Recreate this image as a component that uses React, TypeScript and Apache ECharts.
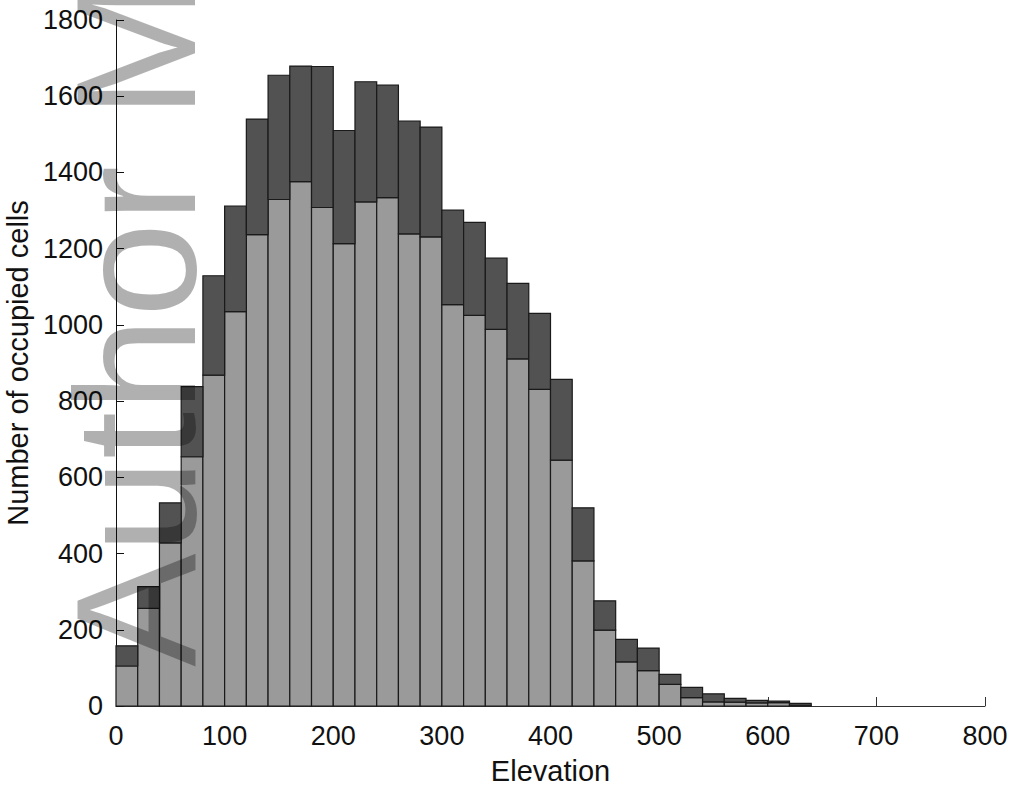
import React, { useEffect, useRef } from "react";
import * as echarts from "echarts";

const binStarts = [0, 20, 40, 60, 80, 100, 120, 140, 160, 180, 200, 220, 240, 260, 280, 300, 320, 340, 360, 380, 400, 420, 440, 460, 480, 500, 520, 540, 560, 580, 600, 620];
const binWidth = 20;
const lightCounts = [105, 256, 428, 654, 868, 1035, 1237, 1329, 1376, 1308, 1213, 1323, 1334, 1239, 1231, 1053, 1025, 988, 911, 831, 645, 381, 199, 116, 93, 57, 22, 11, 10, 8, 9, 2];
const totalCounts = [158, 313, 533, 838, 1129, 1312, 1540, 1655, 1679, 1678, 1510, 1638, 1629, 1535, 1519, 1301, 1269, 1175, 1109, 1030, 857, 520, 276, 175, 152, 83, 49, 32, 20, 15, 13, 7];

const xTicks = { min: 0, max: 800, interval: 100 };
const yTicks = { min: 0, max: 1800, interval: 200 };
const xName = "Elevation";
const yName = "Number of occupied cells";
const watermark = "Author M";

const FONT = "'Liberation Sans', Arial, Helvetica, sans-serif";

export default function App() {
  const ref = useRef<HTMLDivElement>(null);
  useEffect(() => {
    if (!ref.current) return;
    const chart = echarts.init(ref.current, undefined, { renderer: "svg" });
    const lightData = binStarts.map((s, i) => [s, s + binWidth, 0, lightCounts[i]]);
    const darkData = binStarts.map((s, i) => [s, s + binWidth, lightCounts[i], totalCounts[i]]);
    const makeRender = (fill: string) => (params: any, api: any) => {
      const p0 = api.coord([api.value(0), api.value(2)]);
      const p1 = api.coord([api.value(1), api.value(3)]);
      return {
        type: "rect",
        shape: { x: p0[0], y: p1[1], width: p1[0] - p0[0], height: p0[1] - p1[1] },
        style: { fill, stroke: "#1a1a1a", lineWidth: 1.2 },
      };
    };
    chart.setOption({
      animation: false,
      backgroundColor: "#ffffff",
      textStyle: { fontFamily: FONT },
      grid: { left: 116, right: 25, top: 20, bottom: 82, containLabel: false, outerBoundsMode: "none" },
      xAxis: {
        type: "value",
        min: xTicks.min,
        max: xTicks.max,
        interval: xTicks.interval,
        name: xName,
        nameLocation: "middle",
        nameGap: 50,
        nameTextStyle: { fontSize: 29, color: "#111", fontFamily: FONT },
        axisLine: { show: true, lineStyle: { color: "#333", width: 1 } },
        axisTick: { show: true, inside: true, length: 9, lineStyle: { color: "#333" } },
        axisLabel: { fontSize: 27, color: "#111", margin: 16, fontFamily: FONT, formatter: (v: number) => String(v) },
        splitLine: { show: false },
      },
      yAxis: {
        type: "value",
        min: yTicks.min,
        max: yTicks.max,
        interval: yTicks.interval,
        name: yName,
        nameLocation: "middle",
        nameGap: 72,
        nameTextStyle: { fontSize: 29, color: "#111", fontFamily: FONT },
        axisLine: { show: true, lineStyle: { color: "#111", width: 1 } },
        axisTick: { show: true, inside: true, length: 8, lineStyle: { color: "#111" } },
        axisLabel: { fontSize: 27, color: "#111", margin: 13, fontFamily: FONT, formatter: (v: number) => String(v) },
        splitLine: { show: false },
      },
      series: [
        {
          type: "custom",
          name: "light",
          data: lightData,
          encode: { x: [0, 1], y: [2, 3] },
          renderItem: makeRender("#9a9a9a"),
        },
        {
          type: "custom",
          name: "dark",
          data: darkData,
          encode: { x: [0, 1], y: [2, 3] },
          renderItem: makeRender("#525252"),
        },
      ],
      graphic: [
        {
          type: "text",
          x: 136,
          y: 322,
          rotation: Math.PI / 2,
          z: 100,
          silent: true,
          style: {
            text: watermark,
            fontSize: 170,
            fontFamily: FONT,
            fill: "rgba(0,0,0,0.31)",
            align: "center",
            verticalAlign: "middle",
          },
        },
      ],
    });
    return () => chart.dispose();
  }, []);
  return (
    <div
      ref={ref}
      style={{ position: "fixed", left: 0, top: 0, width: 1010, height: 788, background: "#fff" }}
    />
  );
}
